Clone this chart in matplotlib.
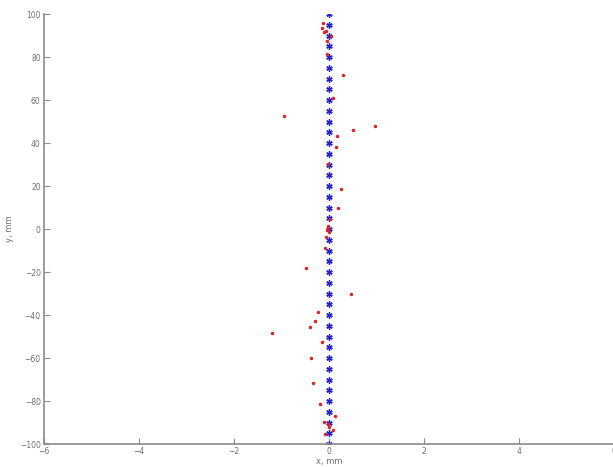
import numpy as np
import matplotlib
matplotlib.use("Agg")
import matplotlib.pyplot as plt

# nominal positions (blue stars)
nom_y = [-100, -95, -90, -85, -80, -75, -70, -65, -60, -55, -50, -45, -40, -35, -30,
         -25, -20, -15, -10, -5, 0, 5, 10, 15, 20, 25, 30, 35, 40, 45, 50, 55, 60,
         65, 70, 75, 80, 85, 90, 95, 100]
nom_x = [0.0] * len(nom_y)

# measured positions (red dots)
meas_x = [-0.13, -0.14, -0.10, -0.05, 0.05, -0.03, -0.03, 0.30, 0.08, -0.95,
          0.98, 0.51, 0.18, 0.16, -0.02, 0.25, 0.20, 0.03, -0.02, -0.01,
          -0.03, 0.0, -0.05, -0.09, -0.48, 0.47, -0.22, -0.30, -0.39, -1.20,
          -0.14, -0.37, -0.34, -0.18, 0.13, -0.10, -0.02, 0.01, 0.09, -0.08]
meas_y = [95.7, 93.6, 91.5, 92.2, 89.9, 87.3, 81.4, 71.5, 61.1, 52.7,
          48.1, 46.2, 43.1, 38.1, 30.1, 18.6, 9.8, 4.5, 1.5, 0.5,
          -0.5, -1.5, -3.9, -9.0, -18.1, -30.1, -38.6, -42.8, -45.7, -48.4,
          -52.4, -59.8, -71.6, -81.4, -86.8, -89.5, -90.7, -91.9, -93.5, -95.2]

gray = '#8a8a8a'

fig = plt.figure(figsize=(6.13, 4.67), dpi=100)
ax = fig.add_axes([0.071, 0.049, 0.931, 0.921])

# MATLAB-style asterisk marker
ax.plot(nom_x, nom_y, linestyle='none', marker=(6, 2, 0), color='#2222cc',
        markersize=4.5, markeredgewidth=1.0)
ax.plot(meas_x, meas_y, '.', color='#dd2222', markersize=3)

ax.set_xlim(-6, 6)
ax.set_ylim(-100, 100)
ax.set_xticks([-6, -4, -2, 0, 2, 4, 6])
ax.set_yticks(np.arange(-100, 101, 20))

for side in ['top', 'right']:
    ax.spines[side].set_visible(False)
for side in ['left', 'bottom']:
    ax.spines[side].set_color(gray)
    ax.spines[side].set_linewidth(1.2)

ax.tick_params(direction='in', length=4, width=0.8, color=gray,
               labelcolor='#707070', labelsize=5.5, pad=2)
ax.set_xlabel('x, mm', fontsize=6, color='#707070', labelpad=1)
ax.set_ylabel('y, mm', fontsize=6, color='#707070', labelpad=4)

plt.savefig("out.png", dpi=100)
